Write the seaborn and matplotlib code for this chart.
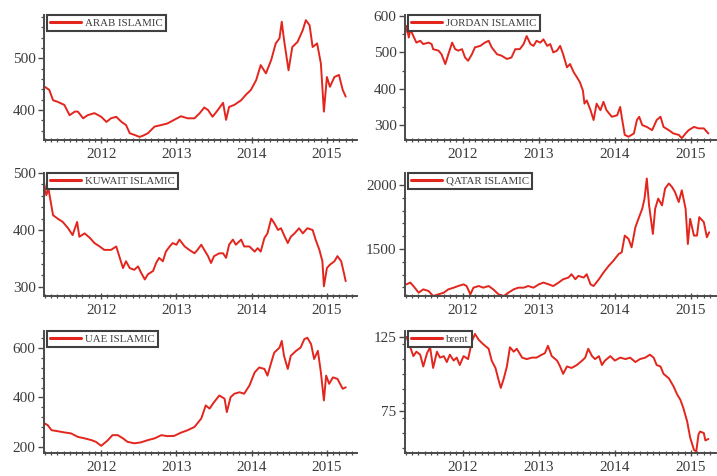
import matplotlib
matplotlib.use("Agg")
import matplotlib.pyplot as plt
from matplotlib.ticker import FixedLocator, MultipleLocator, FormatStrFormatter
import pandas as pd
import seaborn as sns

# ---- weekly index levels, time in decimal years ----
arab_t = [2011.25, 2011.31, 2011.36, 2011.42, 2011.51, 2011.58, 2011.65, 2011.69, 2011.76, 2011.82, 2011.91,
          2012.00, 2012.07, 2012.13, 2012.20, 2012.27, 2012.33, 2012.38, 2012.44, 2012.51, 2012.55, 2012.62,
          2012.71, 2012.80, 2012.88, 2012.97,
          2013.06, 2013.15, 2013.24, 2013.31, 2013.37, 2013.42, 2013.48, 2013.55, 2013.62, 2013.66, 2013.70,
          2013.77, 2013.86, 2013.92, 2013.99,
          2014.06, 2014.12, 2014.19, 2014.26, 2014.32, 2014.37, 2014.40, 2014.43, 2014.49, 2014.54, 2014.61,
          2014.68, 2014.72, 2014.77, 2014.81, 2014.87, 2014.92, 2014.96,
          2015.00, 2015.04, 2015.10, 2015.16, 2015.21, 2015.25]
arab_v = [445, 439, 419, 416, 410, 390, 397, 397, 384, 390, 394,
          387, 377, 384, 387, 377, 371, 355, 352, 348, 350, 355, 368, 371, 374, 381,
          388, 384, 384, 394, 405, 400, 387, 400, 414, 381, 406, 410, 419, 429, 439,
          458, 487, 471, 497, 529, 539, 571, 536, 477, 522, 532, 555, 574, 564, 522, 529, 490, 397,
          464, 445, 464, 468, 439, 426]

jordan_t = [2011.24, 2011.26, 2011.29, 2011.31, 2011.35, 2011.39, 2011.44, 2011.48, 2011.55, 2011.59,
            2011.61, 2011.68, 2011.72, 2011.77, 2011.81, 2011.86, 2011.90, 2011.94, 2011.99,
            2012.03, 2012.07, 2012.12, 2012.16, 2012.23, 2012.29, 2012.34, 2012.38, 2012.45, 2012.51,
            2012.58, 2012.64, 2012.69, 2012.75, 2012.80, 2012.84, 2012.89, 2012.93, 2012.97,
            2013.02, 2013.06, 2013.11, 2013.15, 2013.19, 2013.24, 2013.28, 2013.32, 2013.37, 2013.41,
            2013.46, 2013.50, 2013.54, 2013.58, 2013.60, 2013.63, 2013.68, 2013.72, 2013.76, 2013.81,
            2013.85, 2013.89, 2013.96,
            2014.03, 2014.07, 2014.09, 2014.13, 2014.18, 2014.25, 2014.29, 2014.32, 2014.36, 2014.42,
            2014.49, 2014.55, 2014.60, 2014.64, 2014.71, 2014.77, 2014.84, 2014.88, 2014.93, 2014.97,
            2015.04, 2015.10, 2015.17, 2015.23]
jordan_v = [548, 573, 541, 564, 545, 527, 532, 523, 527, 523,
            509, 505, 495, 468, 495, 527, 509, 505, 509,
            486, 477, 495, 514, 518, 527, 532, 514, 495, 491,
            482, 486, 509, 509, 523, 545, 523, 518, 532,
            527, 536, 518, 523, 500, 505, 518, 495, 459, 468,
            445, 432, 418, 395, 359, 368, 341, 314, 359, 341,
            364, 341, 323,
            327, 350, 323, 273, 268, 277, 314, 323, 300, 295,
            286, 314, 323, 295, 286, 277, 273, 264, 277, 286,
            295, 291, 291, 277]

kuwait_t = [2011.24, 2011.27, 2011.30, 2011.33, 2011.36, 2011.42, 2011.49, 2011.56, 2011.62, 2011.68,
            2011.71, 2011.78, 2011.85, 2011.91, 2011.98, 2012.04, 2012.13, 2012.20, 2012.24, 2012.29,
            2012.33, 2012.38, 2012.44, 2012.49, 2012.53, 2012.58, 2012.62, 2012.69, 2012.73, 2012.77,
            2012.82, 2012.86, 2012.91, 2012.95, 2013.00, 2013.04, 2013.11, 2013.17, 2013.24, 2013.28,
            2013.33, 2013.37, 2013.42, 2013.46, 2013.50, 2013.57, 2013.62, 2013.66, 2013.70, 2013.75,
            2013.79, 2013.86, 2013.90, 2013.97, 2014.04, 2014.08, 2014.12, 2014.17, 2014.21, 2014.26,
            2014.30, 2014.35, 2014.39, 2014.43, 2014.48, 2014.52, 2014.57, 2014.63, 2014.68, 2014.74,
            2014.81, 2014.85, 2014.90, 2014.94, 2014.96, 2015.00, 2015.04, 2015.10, 2015.14, 2015.19,
            2015.23, 2015.25]
kuwait_v = [484, 461, 472, 449, 426, 420, 414, 403, 391, 414,
            388, 394, 386, 377, 371, 365, 365, 371, 354, 333,
            345, 333, 330, 336, 325, 313, 322, 328, 342, 351,
            345, 362, 371, 377, 374, 383, 371, 365, 359, 365,
            374, 365, 354, 342, 354, 359, 359, 351, 374, 383,
            374, 383, 371, 371, 362, 368, 362, 386, 394, 420,
            412, 400, 403, 391, 377, 388, 394, 403, 394, 403,
            400, 383, 365, 345, 301, 333, 339, 345, 354, 345,
            322, 310]

qatar_t = [2011.26, 2011.31, 2011.35, 2011.42, 2011.48, 2011.55, 2011.61, 2011.68, 2011.75, 2011.81,
           2011.88, 2011.94, 2012.01, 2012.05, 2012.10, 2012.14, 2012.21, 2012.27, 2012.34, 2012.40,
           2012.47, 2012.54, 2012.60, 2012.67, 2012.73, 2012.80, 2012.86, 2012.93, 2013.00, 2013.06,
           2013.13, 2013.19, 2013.26, 2013.32, 2013.39, 2013.43, 2013.48, 2013.52, 2013.59, 2013.63,
           2013.68, 2013.72, 2013.79, 2013.85, 2013.92, 2013.98, 2014.05, 2014.09, 2014.13, 2014.18,
           2014.22, 2014.27, 2014.31, 2014.36, 2014.39, 2014.42, 2014.45, 2014.50, 2014.53, 2014.57,
           2014.62, 2014.66, 2014.71, 2014.75, 2014.79, 2014.84, 2014.88, 2014.93, 2014.96, 2014.99,
           2015.04, 2015.08, 2015.11, 2015.17, 2015.21, 2015.24]
qatar_v = [1224, 1238, 1211, 1159, 1185, 1172, 1133, 1146, 1159, 1185,
           1198, 1211, 1224, 1211, 1146, 1198, 1211, 1198, 1211, 1185,
           1146, 1133, 1159, 1185, 1198, 1198, 1211, 1198, 1224, 1238,
           1224, 1211, 1238, 1264, 1277, 1303, 1264, 1290, 1277, 1303,
           1224, 1211, 1264, 1316, 1369, 1408, 1461, 1474, 1605, 1579,
           1513, 1671, 1736, 1815, 1894, 2051, 1841, 1618, 1815, 1894,
           1841, 1972, 2012, 1986, 1946, 1867, 1959, 1815, 1539, 1736,
           1605, 1605, 1749, 1710, 1592, 1631]

uae_t = [2011.25, 2011.29, 2011.34, 2011.42, 2011.51, 2011.60, 2011.69, 2011.78, 2011.87, 2011.93,
         2012.00, 2012.04, 2012.09, 2012.15, 2012.22, 2012.29, 2012.35, 2012.44, 2012.53, 2012.62,
         2012.71, 2012.80, 2012.88, 2012.97, 2013.06, 2013.15, 2013.24, 2013.33, 2013.39, 2013.44,
         2013.50, 2013.57, 2013.64, 2013.67, 2013.72, 2013.77, 2013.84, 2013.90, 2013.97, 2014.04,
         2014.10, 2014.17, 2014.21, 2014.26, 2014.30, 2014.37, 2014.40, 2014.43, 2014.48, 2014.52,
         2014.59, 2014.65, 2014.70, 2014.74, 2014.79, 2014.83, 2014.88, 2014.92, 2014.96, 2014.99,
         2015.03, 2015.08, 2015.14, 2015.21, 2015.25]
uae_v = [295, 288, 268, 264, 259, 255, 241, 235, 228, 221,
         205, 215, 228, 248, 248, 235, 221, 215, 219, 228,
         235, 248, 244, 245, 258, 268, 281, 315, 368, 355,
         381, 408, 395, 341, 401, 415, 421, 415, 448, 501,
         521, 515, 488, 541, 581, 601, 628, 568, 515, 568,
         588, 601, 635, 641, 615, 555, 588, 501, 388, 488,
         455, 481, 475, 435, 441]

brent_t = [2011.26, 2011.31, 2011.35, 2011.39, 2011.44, 2011.48, 2011.53, 2011.57, 2011.61, 2011.66,
           2011.70, 2011.75, 2011.79, 2011.83, 2011.88, 2011.92, 2011.96, 2012.01, 2012.07, 2012.12,
           2012.16, 2012.21, 2012.27, 2012.34, 2012.38, 2012.43, 2012.47, 2012.50, 2012.54, 2012.58,
           2012.62, 2012.67, 2012.71, 2012.78, 2012.84, 2012.91, 2012.97, 2013.04, 2013.08, 2013.12,
           2013.17, 2013.24, 2013.28, 2013.32, 2013.37, 2013.43, 2013.50, 2013.57, 2013.61, 2013.65,
           2013.70, 2013.74, 2013.79, 2013.83, 2013.87, 2013.94, 2014.00, 2014.07, 2014.14, 2014.20,
           2014.27, 2014.33, 2014.40, 2014.46, 2014.51, 2014.55, 2014.60, 2014.64, 2014.71, 2014.77,
           2014.82, 2014.86, 2014.90, 2014.95, 2014.99, 2015.04, 2015.07, 2015.10, 2015.12, 2015.17,
           2015.19, 2015.23]
brent_v = [125, 118, 112, 115, 113, 105, 114, 118, 104, 115,
           111, 112, 108, 113, 109, 111, 106, 112, 110, 122,
           127, 123, 120, 117, 109, 104, 96, 90.5, 97, 105,
           118, 115, 117, 111, 110, 111, 111, 113, 114, 119,
           112, 109, 105, 100, 105, 104, 106, 109, 111, 117,
           112, 110, 112, 106, 109, 112, 109, 111, 110, 111,
           108, 110, 111, 113, 111, 106, 105, 100, 97, 91.7,
           86, 82.6, 77, 68, 57, 48.6, 47.5, 59, 61, 60,
           55, 56]

year_ticks = [2012, 2013, 2014, 2015]

LINE_RED = "#e3261d"
INK = "#3c3c3c"

sns.set_theme(style="ticks")
plt.rcParams["font.family"] = ["Liberation Serif", "DejaVu Serif"]

fig = plt.figure(figsize=(7.17, 4.76), dpi=100)

W, H = 717.0, 476.0
col_x = [(44, 357), (405, 716)]
row_y = [(15, 140), (173, 296), (331, 453)]

panels = [
    ("ARAB ISLAMIC", arab_t, arab_v, 0, 0, (342, 584), [400, 500], 20),
    ("JORDAN ISLAMIC", jordan_t, jordan_v, 0, 1, (259, 603), [300, 400, 500, 600], 50),
    ("KUWAIT ISLAMIC", kuwait_t, kuwait_v, 1, 0, (284, 500), [300, 400, 500], 20),
    ("QATAR ISLAMIC", qatar_t, qatar_v, 1, 1, (1133, 2094), [1500, 2000], 100),
    ("UAE ISLAMIC", uae_t, uae_v, 2, 0, (176, 668), [200, 400, 600], 40),
    ("brent", brent_t, brent_v, 2, 1, (46.5, 129), [75, 125], 10),
]

for name, t, v, r, c, ylim, yticks, yminor in panels:
    x0, x1 = col_x[c]
    y0, y1 = row_y[r]
    ax = fig.add_axes([x0 / W, 1 - y1 / H, (x1 - x0) / W, (y1 - y0) / H])
    df = pd.DataFrame({"year": t, "value": v})
    sns.lineplot(data=df, x="year", y="value", ax=ax, color=LINE_RED,
                 linewidth=1.4, label=name, estimator=None, sort=False)
    ax.set_xlabel("")
    ax.set_ylabel("")
    ax.set_xlim(2011.24, 2015.40 if c == 0 else 2015.33)
    ax.set_ylim(*ylim)

    ax.xaxis.set_major_locator(FixedLocator(year_ticks))
    ax.xaxis.set_major_formatter(FormatStrFormatter("%d"))
    ax.xaxis.set_minor_locator(MultipleLocator(1 / 12))
    ax.yaxis.set_major_locator(FixedLocator(yticks))
    ax.yaxis.set_major_formatter(FormatStrFormatter("%d"))
    ax.yaxis.set_minor_locator(MultipleLocator(yminor))

    for side in ("top", "right"):
        ax.spines[side].set_visible(False)
    for side in ("left", "bottom"):
        ax.spines[side].set_color("#4a4a4a")
        ax.spines[side].set_linewidth(1.4)

    ax.tick_params(axis="both", which="major", labelsize=11, labelcolor=INK,
                   color="#4a4a4a", width=1.0, length=4, pad=2)
    ax.tick_params(axis="x", which="major", direction="inout", length=5, pad=3)
    ax.tick_params(axis="x", which="minor", direction="inout", length=3,
                   color="#4a4a4a", width=0.9)
    ax.tick_params(axis="y", which="minor", direction="out", length=2,
                   color="#4a4a4a", width=0.9)

    leg = ax.legend(loc="upper left", bbox_to_anchor=(0.01, 1.0), fontsize=7.8,
                    frameon=True, fancybox=False, framealpha=1,
                    edgecolor="#404040", handlelength=2.8, handletextpad=0.4,
                    borderpad=0.3, borderaxespad=0)
    leg.get_frame().set_linewidth(1.5)
    for line in leg.get_lines():
        line.set_linewidth(2.2)
    for txt in leg.get_texts():
        txt.set_color(INK)

fig.savefig("out.png", dpi=100)
